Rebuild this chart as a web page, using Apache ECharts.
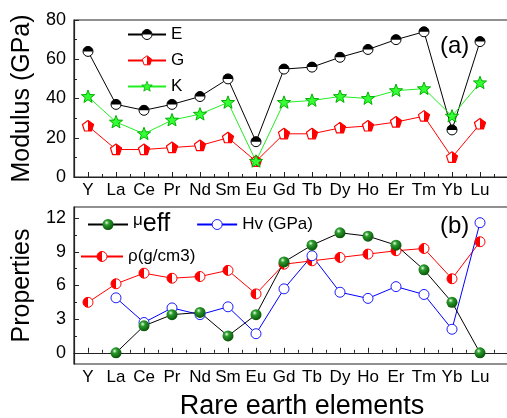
<!DOCTYPE html>
<html>
<head>
<meta charset="utf-8">
<script src="https://cdn.jsdelivr.net/npm/echarts@6.0.0/dist/echarts.min.js"></script>
<style>
  html, body { margin: 0; padding: 0; background: #fff; overflow: hidden; }
  #chart { width: 507px; height: 418px; }
</style>
</head>
<body>
<div id="chart"></div>
<script>
// categories and values
const elements = ['Y', 'La', 'Ce', 'Pr', 'Nd', 'Sm', 'Eu', 'Gd', 'Tb', 'Dy', 'Ho', 'Er', 'Tm', 'Yb', 'Lu'];
const eValues = [64, 37, 34, 37, 41, 50, 18, 55, 56, 61, 65, 70, 74, 24, 69];
const gValues = [26, 14, 14, 15, 16, 20, 8, 22, 22, 25, 26, 28, 31, 10, 27];
const kValues = [41, 28, 22, 29, 32, 38, 8, 38, 39, 41, 40, 44, 45, 31, 48];
const muValues = [null, 0, 2.4, 3.4, 3.6, 1.5, 3.4, 8.1, 9.6, 10.7, 10.4, 9.6, 7.4, 4.5, 0];
const rhoValues = [4.5, 6.15, 7.1, 6.65, 6.8, 7.35, 5.25, 7.9, 8.2, 8.5, 8.8, 9.1, 9.3, 6.6, 9.9];
const hvValues = [null, 4.9, 2.7, 4.0, 3.4, 4.1, 1.7, 5.7, 8.65, 5.4, 4.85, 5.9, 5.2, 2.1, 11.6];
const propTicks = [0, 3, 6, 9, 12];

const FONT = '"Liberation Sans", Arial, sans-serif';

// element index -> position 1..15 on a value axis
const toPairs = vals => vals.map((v, i) => (v == null ? null : [i + 1, v])).filter(Boolean);
const majorX = elements.map((_, i) => i + 1).concat([elements.length + 1]);
const minorX = majorX.map(v => v + 0.5);

// symbols as small svg pictures (half filled marks)
const svg = body => 'image://data:image/svg+xml;charset=utf-8,' + encodeURIComponent(
  "<svg xmlns='http://www.w3.org/2000/svg' width='24' height='24' viewBox='0 0 24 24'>" + body + '</svg>');
const symE = svg("<circle cx='12' cy='12' r='10' fill='#fff' stroke='#000' stroke-width='2'/>" +
  "<path d='M2 12 A10 10 0 0 1 22 12 Z' fill='#000'/>");
const pent = '12,2.5 21.5,9.4 17.9,20.6 6.1,20.6 2.5,9.4';
const symG = svg("<polygon points='" + pent + "' fill='#fff' stroke='#f00' stroke-width='2' stroke-linejoin='round'/>" +
  "<polygon points='12,2.5 21.5,9.4 17.9,20.6 12,20.6' fill='#f00'/>");
const star = '12,1.5 14.7,8.8 22.5,9.1 16.4,13.9 18.5,21.4 12,17.1 5.5,21.4 7.6,13.9 1.5,9.1 9.3,8.8';
const symK = svg("<polygon points='" + star + "' fill='#33ff33' stroke='#00b000' stroke-width='1.6' stroke-linejoin='round'/>");
const symMu = svg("<defs><radialGradient id='b' cx='0.38' cy='0.34' r='0.7'>" +
  "<stop offset='0' stop-color='#eaffea'/><stop offset='0.3' stop-color='#2c9c2c'/><stop offset='1' stop-color='#064f06'/>" +
  "</radialGradient></defs><circle cx='12' cy='12' r='11' fill='url(#b)'/>");
const symRho = svg("<circle cx='12' cy='12' r='10' fill='#fff' stroke='#f00' stroke-width='2'/>" +
  "<path d='M12 2 A10 10 0 0 0 12 22 Z' fill='#f00'/>");
const symHv = svg("<circle cx='12' cy='12' r='10' fill='#fff' stroke='#00f' stroke-width='1.8'/>");

const chart = echarts.init(document.getElementById('chart'), null, { renderer: 'canvas' });

const xLabelStyle = { color: '#000', fontSize: 17, fontFamily: FONT };
const yLabelStyle = { color: '#000', fontSize: 18, fontFamily: FONT };
const lineAxis = { show: true, lineStyle: { color: '#222', width: 1.2 } };

const xMain = gridIndex => ({
  type: 'value', gridIndex, position: 'bottom', min: 0.5, max: 16.5,
  axisLine: lineAxis,
  splitLine: { show: false },
  axisTick: { show: true, inside: true, length: 5, customValues: majorX, lineStyle: { color: '#222' } },
  axisLabel: Object.assign({ margin: 5, customValues: majorX.slice(0, elements.length),
    formatter: v => elements[Math.round(v) - 1] || '' }, xLabelStyle)
});
const xMinor = gridIndex => ({
  type: 'value', gridIndex, position: 'bottom', min: 0.5, max: 16.5,
  axisLine: { show: false }, splitLine: { show: false }, axisLabel: { show: false },
  axisTick: { show: true, inside: true, length: 3, customValues: minorX, lineStyle: { color: '#222' } }
});

const option = {
  animation: false,
  backgroundColor: '#fff',
  grid: [
    { left: 74, top: 20, height: 157, width: 448, outerBoundsMode: 'none', containLabel: false,
      show: true, borderColor: '#222', borderWidth: 1.2 },
    { left: 74, top: 207, height: 157, width: 448, outerBoundsMode: 'none', containLabel: false,
      show: true, borderColor: '#222', borderWidth: 1.2 }
  ],
  xAxis: [
    xMain(0), xMinor(0),
    Object.assign(xMain(1), {
      name: 'Rare earth elements', nameLocation: 'middle', nameGap: 29,
      nameTextStyle: { color: '#000', fontSize: 27, fontFamily: FONT, padding: [0, 0, 0, 8] }
    }),
    xMinor(1)
  ],
  yAxis: [
    {
      type: 'value', gridIndex: 0, min: 0, max: 80, interval: 20,
      name: 'Modulus (GPa)', nameLocation: 'middle', nameGap: 39,
      nameTextStyle: { color: '#000', fontSize: 25, fontFamily: FONT },
      axisLine: lineAxis, splitLine: { show: false },
      axisTick: { show: true, inside: true, length: 5, lineStyle: { color: '#222' } },
      minorTick: { show: true, splitNumber: 2, length: 3, lineStyle: { color: '#222' } },
      axisLabel: Object.assign({ margin: 8 }, yLabelStyle)
    },
    {
      type: 'value', gridIndex: 1, min: -1, max: 13,
      name: 'Properties', nameLocation: 'middle', nameGap: 38,
      nameTextStyle: { color: '#000', fontSize: 25, fontFamily: FONT },
      axisLine: lineAxis, splitLine: { show: false },
      axisTick: { show: true, inside: true, length: 5, customValues: propTicks, lineStyle: { color: '#222' } },
      axisLabel: Object.assign({ margin: 8, customValues: propTicks }, yLabelStyle)
    },
    {
      type: 'value', gridIndex: 1, position: 'left', min: -1, max: 13,
      axisLine: { show: false }, splitLine: { show: false }, axisLabel: { show: false },
      axisTick: { show: true, inside: true, length: 3, customValues: [1.5, 4.5, 7.5, 10.5], lineStyle: { color: '#222' } }
    }
  ],
  legend: [
    {
      orient: 'vertical', left: 122, top: 21, itemWidth: 38, itemHeight: 15, itemGap: 9,
      data: ['E', 'G', 'K'],
      textStyle: { color: '#000', fontSize: 17, fontFamily: FONT }
    },
    {
      orient: 'horizontal', left: 82, top: 207, itemWidth: 40, itemHeight: 15, itemGap: 26,
      data: ['μeff', 'Hv (GPa)'],
      formatter: name => (name === 'μeff' ? '{mu|μ}{eff|eff}' : name),
      textStyle: {
        color: '#000', fontSize: 17, fontFamily: FONT,
        rich: {
          mu: { fontSize: 17, fontFamily: FONT, color: '#000', verticalAlign: 'top', padding: [0, 0, 6, 0] },
          eff: { fontSize: 25, fontFamily: FONT, color: '#000' }
        }
      }
    },
    {
      orient: 'horizontal', left: 75, top: 243, itemWidth: 42, itemHeight: 15,
      data: ['ρ(g/cm3)'],
      textStyle: { color: '#000', fontSize: 17, fontFamily: FONT }
    }
  ],
  graphic: [
    { type: 'text', left: 440, top: 34, style: { text: '(a)', fontSize: 24, fontFamily: FONT, fill: '#000' } },
    { type: 'text', left: 440, top: 214, style: { text: '(b)', fontSize: 24, fontFamily: FONT, fill: '#000' } }
  ],
  series: [
    { name: 'E', type: 'line', xAxisIndex: 0, yAxisIndex: 0, data: toPairs(eValues),
      symbol: symE, symbolSize: 12, lineStyle: { color: '#000', width: 1 }, itemStyle: { color: '#000' } },
    { name: 'G', type: 'line', xAxisIndex: 0, yAxisIndex: 0, data: toPairs(gValues),
      symbol: symG, symbolSize: 14, lineStyle: { color: '#f00', width: 1 }, itemStyle: { color: '#f00' } },
    { name: 'K', type: 'line', xAxisIndex: 0, yAxisIndex: 0, data: toPairs(kValues),
      symbol: symK, symbolSize: 15, lineStyle: { color: '#22ee22', width: 1 }, itemStyle: { color: '#22ee22' } },
    { name: 'ρ(g/cm3)', type: 'line', xAxisIndex: 2, yAxisIndex: 1, data: toPairs(rhoValues),
      symbol: symRho, symbolSize: 12, lineStyle: { color: '#f00', width: 1 }, itemStyle: { color: '#f00' } },
    { name: 'Hv (GPa)', type: 'line', xAxisIndex: 2, yAxisIndex: 1, data: toPairs(hvValues),
      symbol: symHv, symbolSize: 12, lineStyle: { color: '#00f', width: 1 }, itemStyle: { color: '#00f' } },
    { name: 'μeff', type: 'line', xAxisIndex: 2, yAxisIndex: 1, data: toPairs(muValues),
      symbol: symMu, symbolSize: 12, lineStyle: { color: '#000', width: 1 }, itemStyle: { color: '#0a7a0a' } }
  ]
};

chart.setOption(option);
</script>
</body>
</html>
